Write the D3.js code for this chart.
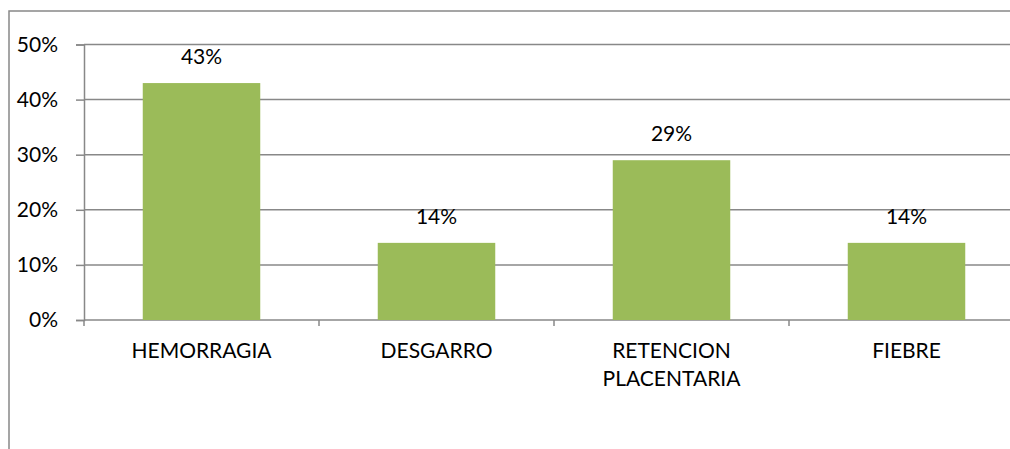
<!DOCTYPE html>
<html>
<head>
<meta charset="utf-8">
<script src="https://cdn.jsdelivr.net/npm/d3@7"></script>
<style>
  body { margin: 0; background: #fff; }
  svg { display: block; font-family: Lato, 'Open Sans', sans-serif; }
</style>
</head>
<body>
<div id="viz"></div>
<script>
const categories = ['HEMORRAGIA', 'DESGARRO', 'RETENCION PLACENTARIA', 'FIEBRE'];
const labelLines = [['HEMORRAGIA'], ['DESGARRO'], ['RETENCION', 'PLACENTARIA'], ['FIEBRE']];
const values = [0.43, 0.14, 0.29, 0.14];
const yTicks = [0, 0.1, 0.2, 0.3, 0.4, 0.5];

const W = 1010, H = 449,
  margin = { top: 44.5, left: 84 },
  plotW = 940,
  plotH = 275.5;

const svg = d3.select('#viz')
  .append('svg')
  .attr('width', W)
  .attr('height', H)

// chart frame (only left and top edges show)
svg.append('rect')
  .attr('x', 9)
  .attr('y', 11)
  .attr('width', 1100)
  .attr('height', 600)
  .attr('fill', 'none')
  .attr('stroke', '#888')
  .attr('stroke-width', 1.5)

const g = svg.append('g')
  .attr('transform', 'translate(' + margin.left + ',' + margin.top + ')')

const x = d3.scaleBand()
  .domain(categories)
  .range([0, plotW])
  .paddingInner(0.5)
  .paddingOuter(0.25)

const y = d3.scaleLinear()
  .domain([0, 0.5])
  .range([plotH, 0])

// gridlines
g.append('g')
  .selectAll('line')
  .data(yTicks)
  .enter().append('line')
  .attr('x1', 0)
  .attr('x2', plotW)
  .attr('y1', d => y(d))
  .attr('y2', d => y(d))
  .attr('stroke', '#888')
  .attr('stroke-width', 1.5)

// y axis
const yAxis = g.append('g')
  .call(d3.axisLeft(y).tickValues(yTicks).tickFormat(d3.format('.0%')).tickSize(8).tickPadding(18))
yAxis.select('.domain').attr('stroke', '#888').attr('stroke-width', 1.5)
yAxis.selectAll('.tick line').attr('stroke', '#888').attr('stroke-width', 1.5)
yAxis.selectAll('.tick text')
  .attr('font-size', 21)
  .attr('font-family', 'Lato, sans-serif')
  .attr('fill', '#000')

// category tick marks at band edges
const edge = d => x(d) - x.step() * x.paddingInner() / 2;
g.append('g')
  .selectAll('line')
  .data(categories)
  .enter().append('line')
  .attr('x1', edge)
  .attr('x2', edge)
  .attr('y1', plotH)
  .attr('y2', plotH + 6)
  .attr('stroke', '#888')
  .attr('stroke-width', 1.5)

// bars
g.selectAll('rect.bar')
  .data(values)
  .enter().append('rect')
  .attr('class', 'bar')
  .attr('x', (d, i) => x(categories[i]))
  .attr('width', x.bandwidth())
  .attr('y', d => y(d))
  .attr('height', d => plotH - y(d))
  .attr('fill', '#9BBB59')

// value labels
g.selectAll('text.val')
  .data(values)
  .enter().append('text')
  .attr('class', 'val')
  .attr('x', (d, i) => x(categories[i]) + x.bandwidth() / 2)
  .attr('y', d => y(d) - 19)
  .attr('text-anchor', 'middle')
  .attr('font-size', 21)
  .attr('fill', '#000')
  .text(d => d3.format('.0%')(d))

// category labels
const catLabels = g.selectAll('text.cat')
  .data(categories)
  .enter().append('text')
  .attr('class', 'cat')
  .attr('text-anchor', 'middle')
  .attr('font-size', 21)
  .attr('fill', '#000')
  .attr('y', plotH + 38)

catLabels.selectAll('tspan')
  .data((d, i) => labelLines[i].map(t => ({ t: t, cx: x(d) + x.bandwidth() / 2 })))
  .enter().append('tspan')
  .attr('x', d => d.cx)
  .attr('dy', (d, i) => i === 0 ? 0 : 28)
  .text(d => d.t)
</script>
</body>
</html>
